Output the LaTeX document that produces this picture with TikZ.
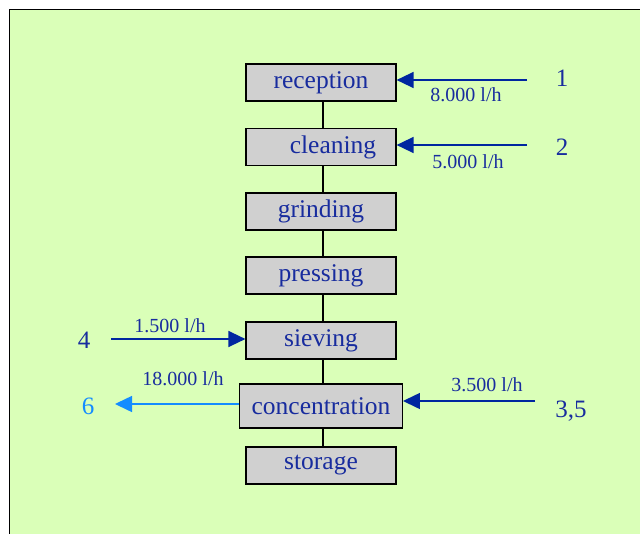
\documentclass[tikz,border=0pt]{standalone}
\usepackage{fontspec}
\setmainfont{Liberation Serif}
\usetikzlibrary{positioning,arrows.meta}
\definecolor{panelgreen}{RGB}{218,255,184}
\definecolor{boxgrey}{RGB}{208,208,208}
\definecolor{flowblue}{RGB}{0,38,160}
\definecolor{textblue}{RGB}{24,44,158}
\definecolor{outblue}{RGB}{20,140,255}

\begin{document}
\begin{tikzpicture}[x=1pt,y=-1pt,>={Triangle[length=17pt,width=16pt]},
	stepbox/.style={draw=black,line width=1.2pt,fill=boxgrey,minimum width=150pt,
		minimum height=37pt,inner xsep=12pt,inner ysep=0pt,text=textblue,
		font=\fontsize{25.5}{30}\selectfont},
	flow/.style={->,draw=flowblue,line width=1.5pt},
	rate/.style={text=textblue,font=\fontsize{20}{24}\selectfont},
	source/.style={text=textblue,font=\fontsize{25}{30}\selectfont}]

		\useasboundingbox (0,0) rectangle (640,533);
		% the panel
		\draw[fill=panelgreen,line width=1.2pt] (9.5,700) -- (9.5,9.5) -- (700,9.5) -- (700,700);

		% the process chain
		\node[stepbox] (reception) at (321,82.5) {reception};
		\node[stepbox,below=26.3pt of reception] (cleaning) {\hspace*{24pt}cleaning};
		\node[stepbox,below=26.3pt of cleaning] (grinding) {grinding};
		\node[stepbox,below=25.8pt of grinding] (pressing) {pressing};
		\node[stepbox,below=26.8pt of pressing] (sieving) {sieving};
		\node[stepbox,minimum height=44pt,below=23.8pt of sieving] (concentration) {concentration};
		\node[stepbox,below=17.8pt of concentration] (storage) {storage};
		\foreach \a/\b in {reception/cleaning,cleaning/grinding,grinding/pressing,
			pressing/sieving,sieving/concentration,concentration/storage}
			\draw[line width=1.2pt] ([xshift=2pt]\a.south) -- ([xshift=2pt]\b.north);

		% the feeds on the right
		\node[source] (src1) at (562,78) {1};
		\coordinate (feed1) at (527,80);
		\draw[flow] (feed1) -- (feed1 -| reception.east);
		\node[rate] (rate1) at (466,95) {8.000 l/h};

		\node[source] (src2) at (562,147) {2};
		\coordinate (feed2) at (527,145);
		\draw[flow] (feed2) -- (feed2 -| cleaning.east);
		\node[rate] (rate2) at (468,162) {5.000 l/h};

		\node[source] (src35) at (571,411) {3,5};
		\coordinate (feed35) at (535,401);
		\draw[flow] (feed35) -- (feed35 -| concentration.east);
		\node[rate] (rate35) at (487,385) {3.500 l/h};

		% the feed and the product on the left
		\node[source] (src4) at (84,340) {4};
		\coordinate (feed4) at (111,339);
		\draw[flow] (feed4) -- (feed4 -| sieving.west);
		\node[rate] (rate4) at (170,326) {1.500 l/h};

		\node[source,text=outblue] (out6) at (88,406) {6};
		\coordinate (prod6) at (115,404);
		\draw[flow,draw=outblue] (prod6 -| concentration.west) -- (prod6);
		\node[rate] (rate6) at (183,379) {18.000 l/h};

\end{tikzpicture}
\end{document}
